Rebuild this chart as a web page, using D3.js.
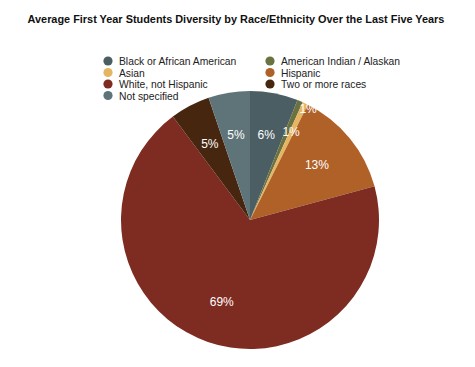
<!DOCTYPE html>
<html>
<head>
<meta charset="utf-8">
<script src="https://cdn.jsdelivr.net/npm/d3@7"></script>
<style>
  body { margin: 0; background: #fff; }
  svg text { font-family: "Liberation Sans", Arial, Helvetica, sans-serif; }
</style>
</head>
<body>
<div id="chart"></div>
<script>
// Pie chart: average first year students by race/ethnicity

const categories = [
  "Black or African American",
  "American Indian / Alaskan",
  "Asian",
  "Hispanic",
  "White, not Hispanic",
  "Two or more races",
  "Not specified"
];
const values = [6.0, 0.7, 0.7, 13.4, 69.0, 5.0, 5.2];
const colors = ["#4b5e63", "#6b7241", "#e6b562", "#b06128", "#7e2b21", "#472610", "#5f7479"];

const width = 475, height = 367;
const radius = 129;
const cx = 250, cy = 220;

const svg = d3.select("#chart")
  .append("svg")
  .attr("width", width)
  .attr("height", height);

svg.append("text")
  .attr("x", 236)
  .attr("y", 23)
  .attr("text-anchor", "middle")
  .attr("font-size", "10.9px")
  .attr("font-weight", "bold")
  .attr("fill", "#111")
  .text("Average First Year Students Diversity by Race/Ethnicity Over the Last Five Years");

// legend, two columns
const legend = svg.append("g");
categories.forEach((c, i) => {
  const col = i % 2, row = Math.floor(i / 2);
  const g = legend.append("g")
    .attr("transform", `translate(${108 + col * 162},${61 + row * 11.5})`);
  g.append("circle").attr("r", 4.6).attr("fill", colors[i]);
  g.append("text")
    .attr("x", 11)
    .attr("y", 4)
    .attr("font-size", "10.3px")
    .attr("fill", "#222")
    .text(c);
});

const data = categories.map((c, i) => ({name: c, value: values[i], color: colors[i]}));

const pie = d3.pie().sort(null).value(d => d.value);
const arcs = pie(data);
const arc = d3.arc().innerRadius(0).outerRadius(radius);

const g = svg.append("g").attr("transform", `translate(${cx},${cy})`);

g.selectAll("path")
  .data(arcs)
  .enter()
  .append("path")
  .attr("d", arc)
  .attr("fill", d => d.data.color);

// labels: small slices get pushed outward one after another
let small = 0;
arcs.forEach(d => {
  let r = radius * 0.67;
  if (d.data.value < 2) {
    r = radius * (0.75 + small * 0.22);
    small++;
  }
  const a = (d.startAngle + d.endAngle) / 2;
  const ang = d.data.value < 2 ? a + 0.04 : a;
  g.append("text")
    .attr("x", Math.sin(ang) * r)
    .attr("y", -Math.cos(ang) * r + 4)
    .attr("text-anchor", "middle")
    .attr("font-size", "12px")
    .attr("fill", "#fff")
    .text(Math.round(d.data.value) + "%");
});
</script>
</body>
</html>
